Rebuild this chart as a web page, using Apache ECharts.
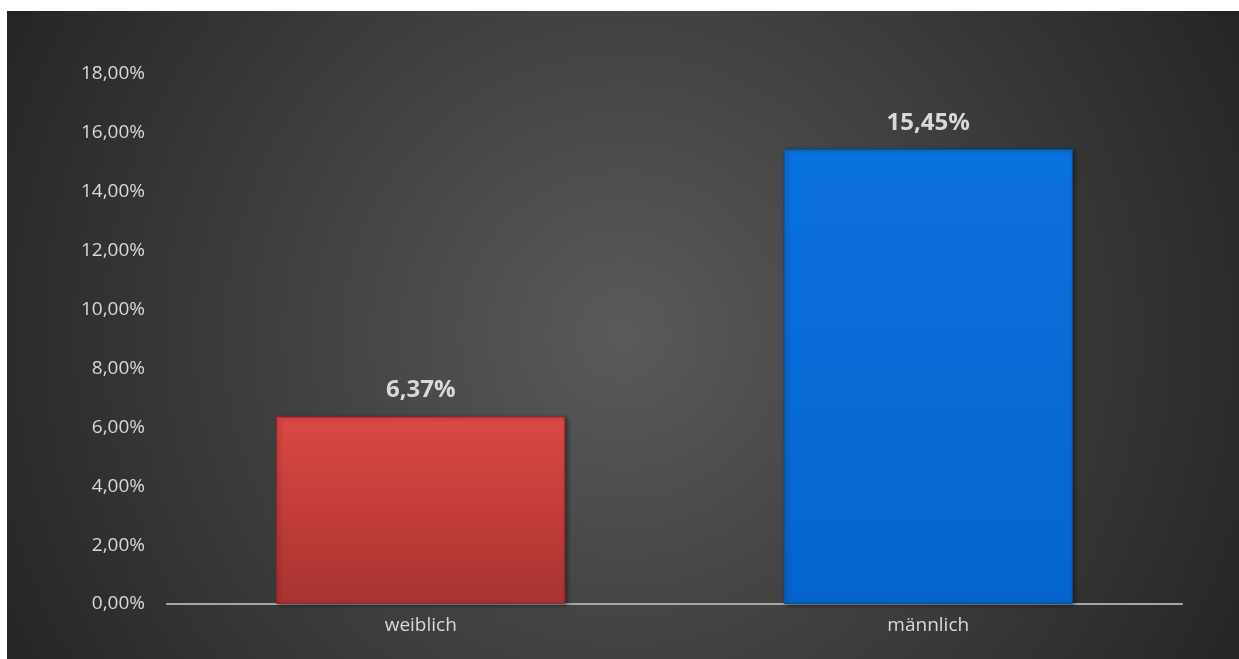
<!DOCTYPE html>
<html><head><meta charset="utf-8">
<script src="https://cdn.jsdelivr.net/npm/echarts@6/dist/echarts.min.js"></script>
<style>
html,body{margin:0;padding:0;background:#fff;width:1239px;height:659px;overflow:hidden;}
#c{position:absolute;left:7px;top:11px;width:1232px;height:648px;}
</style></head><body>
<div id="c"></div>
<script>
const categories = ['weiblich', 'männlich'];
const values = [6.37, 15.45];
const barColors = [
  ['#db4844', '#a83331'],
  ['#0a72de', '#0565cc']
];
const barEdges = ['#8e2a28', '#04509e'];
const fmt = v => v.toFixed(2).replace('.', ',') + '%';

const chart = echarts.init(document.getElementById('c'));
chart.setOption({
  backgroundColor: new echarts.graphic.RadialGradient(0.5, 0.5, 1.1, [
    {offset: 0, color: '#5a5a5a'},
    {offset: 0.55, color: '#3c3c3c'},
    {offset: 1, color: '#242424'}
  ]),
  textStyle: {fontFamily: 'Open Sans'},
  grid: {left: 160, right: 57, top: 63, bottom: 55},
  xAxis: {
    type: 'category',
    data: categories,
    axisLine: {lineStyle: {color: '#a6a6a6', width: 2}},
    axisTick: {show: false},
    axisLabel: {color: '#d9d9d9', fontSize: 19, margin: 12}
  },
  yAxis: {
    type: 'value',
    min: 0, max: 18, interval: 2,
    axisLine: {show: false},
    axisTick: {show: false},
    splitLine: {show: false},
    axisLabel: {color: '#d9d9d9', fontSize: 19, margin: 22, formatter: v => fmt(v)}
  },
  series: [{
    type: 'bar',
    barWidth: '57%',
    data: values.map((v, i) => ({
      value: v,
      itemStyle: {
        color: new echarts.graphic.LinearGradient(0, 0, 0, 1, [
          {offset: 0, color: barColors[i][0]},
          {offset: 1, color: barColors[i][1]}
        ]),
        borderColor: barEdges[i],
        borderWidth: 1,
        shadowColor: 'rgba(0,0,0,0.45)',
        shadowBlur: 4,
        shadowOffsetX: 2,
        shadowOffsetY: 1
      }
    })),
    label: {
      show: true,
      position: 'top',
      distance: 14,
      color: '#d9d9d9',
      fontSize: 24,
      fontWeight: 'bold',
      formatter: p => fmt(p.value)
    }
  }]
});
</script>
</body></html>
